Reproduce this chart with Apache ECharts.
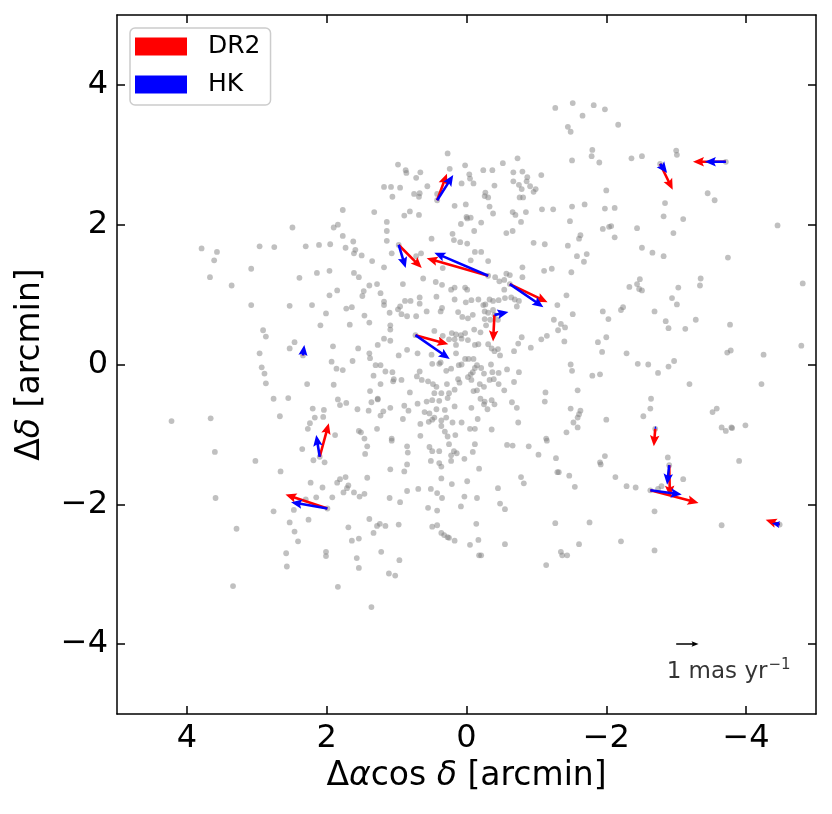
<!DOCTYPE html>
<html><head><meta charset="utf-8">
<script src="https://cdn.jsdelivr.net/npm/echarts@6/dist/echarts.min.js"></script>
<style>html,body{margin:0;padding:0;background:#fff}#c{width:832px;height:814px}</style>
</head><body><div id="c"></div>
<script>
// star positions [Δα cosδ, Δδ] in arcmin, by region
const starsNW = [[3.79,1.66],[3.57,1.61],[3.61,1.49],[2.96,1.69],[2.75,1.68],[2.49,1.96],[2.30,1.69],[2.11,1.71],[1.95,1.72],[1.77,2.21],[1.90,1.96],[1.84,2.00],[1.77,1.84],[1.62,1.76],[1.73,1.67],[1.59,1.64],[1.61,1.59],[1.50,1.56],[1.32,2.18],[1.35,1.48]];
const starsN = [[-1.27,3.67],[-1.52,3.74],[-1.82,3.71],[-1.66,3.56],[-1.45,3.40],[-1.49,3.33],[-1.80,3.07],[-1.79,2.98],[-1.51,2.92],[0.27,3.02],[0.98,2.86],[0.87,2.78],[0.86,2.74],[0.66,2.75],[0.72,2.67],[0.24,2.80],[0.02,2.85],[-0.04,2.72],[-0.05,2.66],[0.07,2.59],[-0.10,2.59],[-0.24,2.78],[-0.37,2.78],[-0.52,2.88],[-0.73,2.95],[-0.67,2.75],[-0.80,2.76],[-0.87,2.68],[-1.07,2.71],[-0.67,2.62],[-0.75,2.57],[-0.86,2.62],[-0.79,2.51],[-0.91,2.55],[-0.99,2.51],[-0.96,2.47],[-0.76,2.39],[-0.81,2.39],[-0.40,2.56],[-0.27,2.46],[-0.26,2.41],[-0.31,2.39],[1.18,2.54],[1.08,2.54],[0.95,2.53],[1.06,2.40],[0.56,2.55],[0.75,2.44],[0.67,2.45],[0.68,2.40],[0.42,2.44],[0.17,2.27],[0.01,2.29],[-0.33,2.26],[-0.38,2.16],[-1.08,2.22],[-1.24,2.22],[-1.51,2.26],[-1.69,2.29],[-1.48,2.05],[-1.63,1.85],[-1.61,1.80],[-1.45,1.70],[-1.58,1.55],[-1.72,1.58],[-1.68,1.47],[0.81,2.19],[0.89,2.13],[0.68,2.14],[1.14,2.04],[1.14,1.91],[1.14,1.77],[1.07,1.59],[0.65,1.59],[0.72,1.55],[0.50,1.80],[0.20,1.87],[0.18,1.78],[0.09,1.75],[-0.01,1.73],[0.08,2.01],[0.00,2.11],[-0.06,2.10],[-0.01,2.09],[-0.21,2.03],[-0.11,1.91],[-0.12,1.61],[-0.21,1.61],[-0.06,1.49],[-0.31,1.48],[-0.57,1.88],[-0.66,1.91],[-0.78,2.04],[-0.66,2.18],[-0.70,2.14],[-0.85,2.18],[-0.96,1.74],[-1.12,1.72]];
const starsNE = [[-1.98,3.65],[-2.17,3.43],[-1.90,2.89],[-2.36,2.95],[-2.51,2.98],[-3.00,3.06],[-3.01,3.00],[-2.00,2.49],[-1.98,2.23],[-2.12,2.24],[-3.45,2.45],[-3.55,2.35],[-2.84,2.31],[-2.82,2.12],[-3.10,2.08],[-4.45,1.99],[-1.95,1.94],[-2.04,1.97],[-2.07,1.98],[-2.12,1.82],[-2.44,1.95],[-2.96,1.88],[-2.51,1.67],[-2.66,1.60],[-2.82,1.55],[-3.74,1.53]];
const starsW = [[3.67,1.25],[3.08,1.37],[3.36,1.13],[3.08,0.85],[2.39,1.24],[2.14,1.31],[1.96,1.34],[1.61,1.31],[1.54,1.25],[1.39,1.13],[1.28,1.15],[1.47,1.05],[1.49,0.98],[1.96,0.99],[1.85,1.06],[2.53,0.84],[2.21,0.85],[2.01,0.73],[1.72,0.80],[1.64,0.82],[2.09,0.56],[1.67,0.57],[1.46,0.70],[1.39,0.60],[2.91,0.49],[2.87,0.40],[2.46,0.32],[2.53,0.23],[2.96,0.16],[1.91,0.26],[1.55,0.23],[1.39,0.16],[1.38,0.09],[1.93,0.04],[1.86,-0.06],[1.77,-0.08],[1.63,0.05],[1.30,-0.01],[1.33,-0.16],[2.93,-0.04],[2.89,-0.13],[2.87,-0.27],[2.28,-0.28],[1.90,-0.29],[2.76,-0.49],[2.55,-0.48],[1.38,-0.38],[1.27,-0.49],[1.84,-0.50],[1.81,-0.58],[1.72,-0.55],[1.36,-0.54],[1.56,-0.64],[1.40,-0.66],[2.20,-0.63],[2.04,-0.65],[2.17,-0.76],[2.05,-0.75],[2.24,-0.84],[2.27,-0.92],[2.67,-0.74],[4.22,-0.81],[3.66,-0.77],[1.54,-0.95],[1.51,-0.97],[1.88,-1.01],[1.46,-1.06],[1.28,-0.92]];
const starsC = [[1.18,1.39],[0.91,1.15],[0.62,1.23],[0.34,1.38],[0.44,1.18],[0.35,1.14],[0.22,1.07],[0.17,1.10],[0.02,1.10],[-0.01,1.07],[-0.41,1.25],[-0.47,1.19],[-0.54,1.21],[-0.57,1.30],[-0.62,1.28],[-0.80,1.39],[-0.80,1.25],[-1.11,1.34],[-1.22,1.37],[-1.50,1.32],
[1.23,1.02],[1.18,0.90],[1.18,0.85],[0.95,0.83],[0.98,0.79],[0.88,0.91],[0.80,0.91],[0.67,0.96],[0.67,0.87],[0.43,0.97],[0.35,0.81],[0.37,0.76],[0.17,0.93],[0.01,0.89],[-0.07,0.92],[-0.17,0.93],[-0.24,0.85],[-0.27,0.86],[-0.33,0.93],[-0.38,0.91],[-0.46,0.92],[-0.55,0.95],[-0.54,1.07],[-0.64,0.96],[-0.69,0.93],[-0.75,0.91],[-0.72,0.83],[-1.43,0.99],[-1.30,0.85],
[1.10,0.74],[0.93,0.72],[0.85,0.69],[0.72,0.69],[0.57,0.76],[0.12,0.75],[0.06,0.68],[-0.02,0.66],[-0.09,0.71],[-0.26,0.76],[-0.31,0.74],[-0.38,0.78],[-0.26,0.65],[-0.34,0.64],[-0.45,0.64],[-0.28,0.56],[-0.20,0.46],[-0.11,0.50],[-1.52,0.72],[-1.25,0.64],[-1.35,0.58],[-1.31,0.49],[-1.41,0.53],[1.09,0.56],[1.09,0.50],[1.09,0.34],[1.18,0.37],[1.27,0.28],
[0.34,0.41],[0.21,0.45],[0.15,0.43],[0.08,0.42],[0.02,0.45],[0.25,0.36],[0.17,0.36],[0.07,0.37],[-0.02,0.35],[-0.12,0.28],[-0.17,0.29],[-0.31,0.29],[-0.36,0.23],[-0.40,0.19],[-0.45,0.22],[-0.48,0.13],[-0.68,0.19],[-0.74,0.30],[-0.79,0.39],[-0.92,0.24],[-1.07,0.36],[-1.15,0.41],[-1.40,0.33],[0.70,0.16],[0.85,0.21],[0.97,0.13],[0.15,0.28],[0.15,0.16],[0.46,0.48],
[1.23,-0.01],[1.16,-0.10],[1.06,-0.11],[0.50,0.14],[0.49,0.01],[0.39,0.01],[0.37,0.03],[0.29,-0.09],[0.11,-0.01],[0.07,0.00],[0.02,0.08],[-0.03,0.08],[-0.10,0.08],[-0.15,-0.01],[-0.12,-0.05],[-0.09,-0.11],[-0.06,-0.14],[-0.02,-0.18],[-0.21,-0.05],[-0.25,-0.13],[-0.35,0.00],[-0.37,-0.11],[-0.46,-0.12],[-0.58,-0.07],[-0.75,-0.11],[-1.49,0.00],[-1.51,-0.09],[-1.80,-0.16],[0.67,-0.10],[0.22,-0.06],
[1.23,-0.28],[1.05,-0.24],[1.04,-0.21],[0.93,-0.22],[0.71,-0.17],[0.64,-0.22],[0.55,-0.24],[0.48,-0.28],[0.43,-0.32],[0.12,-0.21],[0.10,-0.26],[0.28,-0.28],[-0.07,-0.22],[-0.15,-0.37],[-0.10,-0.38],[-0.19,-0.28],[-0.25,-0.32],[-0.33,-0.22],[-0.39,-0.21],[-0.46,-0.28],[-0.54,-0.37],[-0.68,-0.25],[0.81,-0.40],[0.46,-0.41],[0.36,-0.41],[0.25,-0.41],[0.17,-0.36],[-1.59,-0.37],[-1.13,-0.40],
[1.27,-0.50],[1.09,-0.62],[1.19,-0.67],[0.89,-0.59],[0.83,-0.66],[0.70,-0.56],[0.57,-0.53],[0.49,-0.51],[0.39,-0.52],[0.27,-0.48],[0.43,-0.64],[0.31,-0.65],[0.60,-0.68],[0.53,-0.70],[0.17,-0.60],[-0.07,-0.62],[-0.20,-0.49],[-0.26,-0.53],[-0.25,-0.57],[-0.36,-0.51],[-0.40,-0.57],[-0.30,-0.64],[-0.65,-0.54],[-0.72,-0.62],[-1.12,-0.53],[-1.49,-0.63],[-1.63,-0.66],[-1.61,-0.71],[-1.59,-0.76],
[1.23,-0.73],[0.91,-0.78],[0.66,-0.85],[0.54,-0.82],[0.49,-0.79],[0.46,-0.76],[0.36,-0.80],[0.29,-0.76],[0.20,-0.83],[0.36,-0.88],[0.31,-0.96],[0.27,-1.03],[0.07,-0.83],[-0.05,-0.92],[-0.12,-0.92],[-0.16,-0.78],[-0.36,-0.93],[1.07,-1.06],[0.66,-1.02],[0.16,-1.01],[-1.53,-0.83],[-1.59,-0.90],[-1.43,-0.97],[-1.14,-1.06],[-0.74,-0.83]];
const starsE = [[-2.48,1.22],[-2.33,1.11],[-2.44,1.15],[-2.47,1.08],[-2.51,1.06],[-3.03,1.10],[-3.35,1.23],[-3.34,1.13],[-4.81,1.16],[-2.94,0.95],[-3.01,0.86],[-1.95,0.76],[-2.03,0.65],[-2.21,0.78],[-2.24,0.82],[-2.69,0.76],[-2.85,0.62],[-2.89,0.52],[-3.13,0.51],[-3.28,0.64],[-3.77,0.57],[-2.00,0.39],[-1.88,0.32],[-1.94,0.18],[-2.29,0.16],[-2.45,0.01],[-2.60,0.00],[-2.74,-0.12],[-2.89,-0.03],[-2.97,0.05],[-3.73,0.17],[-3.78,0.20],[-4.25,0.14],[-4.79,0.27],[-1.91,-0.14],[-3.19,-0.28],[-4.22,-0.28],[-2.64,-0.49],[-2.63,-0.63],[-2.53,-0.74],[-2.00,-0.79],[-3.52,-0.68],[-3.58,-0.63],[-3.99,-0.87],[-3.65,-0.90],[-3.71,-0.95],[-3.79,-0.90],[-3.80,-0.91]];
const starsSW = [[3.60,-1.25],[3.02,-1.38],[2.35,-1.21],[1.42,-1.17],[1.45,-1.28],[2.19,-1.37],[2.03,-1.40],[2.66,-1.53],[2.23,-1.69],[2.06,-1.76],[1.85,-1.69],[1.81,-1.64],[1.73,-1.61],[1.69,-1.73],[1.71,-1.77],[1.76,-1.83],[1.61,-1.83],[1.53,-1.89],[1.46,-1.85],[1.42,-1.62],[1.92,-1.90],[2.15,-1.90],[2.30,-1.93],[3.59,-1.91],[2.76,-2.10],[2.47,-2.08],[2.26,-2.22],[2.53,-2.26],[2.46,-2.39],[2.41,-2.53],[3.29,-2.35],[1.39,-2.21],[1.33,-2.41],[1.28,-2.31],[1.69,-2.33],[1.64,-2.52],[1.54,-2.49],[2.01,-2.68],[2.01,-2.74],[2.58,-2.70],[2.57,-2.89],[1.57,-2.77],[1.54,-2.91],[3.34,-3.17],[1.84,-3.18],[1.36,-3.47]];
const starsS = [[1.07,-1.09],[0.85,-1.17],[0.84,-1.26],[0.53,-1.18],[0.49,-1.24],[0.39,-1.24],[0.25,-1.14],[0.18,-1.24],[0.14,-1.27],[0.22,-1.30],[-0.12,-1.14],[-0.09,-1.25],[0.03,-1.35],[0.51,-1.38],[0.39,-1.41],[0.36,-1.46],[0.22,-1.38],[0.85,-1.43],[1.09,-1.50],[0.89,-1.53],[-0.18,-1.49],[-0.58,-1.15],[-0.66,-1.16],[-0.89,-1.17],[-1.15,-1.09],[-1.03,-1.29],[-1.28,-1.34],[-1.30,-1.54],[-1.32,-1.54],[-1.47,-1.59],[-1.55,-1.75],[-0.78,-1.61],[-0.82,-1.70],[-0.45,-1.77],[-0.48,-1.99],[-0.55,-2.07],[0.36,-1.63],[0.21,-1.71],[-0.01,-1.67],[0.69,-1.78],[0.85,-1.81],[0.51,-1.78],[0.42,-1.84],[0.35,-1.91],[0.03,-1.89],[-0.15,-1.91],[0.08,-2.03],[0.55,-2.05],[0.42,-2.09],[1.10,-1.91],[0.95,-1.97],[1.24,-2.28],[1.16,-2.31],[0.97,-2.29],[0.49,-2.32],[0.42,-2.30],[0.36,-2.41],[0.32,-2.44],[0.27,-2.47],[0.25,-2.48],[0.17,-2.52],[-0.14,-2.28],[-0.17,-2.51],[-0.05,-2.58],[-0.18,-2.73],[-0.21,-2.73],[-0.55,-2.57],[1.22,-2.68],[0.96,-2.80],[1.11,-2.99],[1.02,-3.02],[-1.27,-2.27],[-1.76,-2.26],[-1.61,-2.57],[-1.35,-2.68],[-1.37,-2.73],[-1.44,-2.73],[-1.14,-2.87]];
const starsSE = [[-1.98,-1.31],[-1.91,-1.40],[-1.92,-1.43],[-2.13,-1.61],[-2.29,-1.74],[-2.42,-1.76],[-2.88,-1.33],[-3.10,-1.64],[-3.90,-1.38],[-2.74,-1.78],[-2.79,-1.74],[-2.69,-2.10],[-3.65,-2.30],[-2.21,-2.53],[-2.69,-2.66]];

// proper-motion arrows: origin and arrow tips (arcmin)
const arrowOrigins = [[0.42,2.35],[-2.77,2.87],[-3.71,2.90],[0.97,1.71],[-0.31,1.27],[-0.62,1.15],[-0.40,0.71],[0.73,0.42],[2.34,0.13],[2.10,-1.32],[1.99,-2.06],[-2.70,-0.92],[-2.90,-1.44],[-2.63,-1.80],[-4.48,-2.29]];
const dr2Tips = [[0.28,2.73],[-2.95,2.50],[-3.24,2.90],[0.64,1.38],[0.57,1.52],[-1.16,0.89],[-0.38,0.33],[0.26,0.29],[2.34,0.18],[1.97,-0.84],[2.59,-1.86],[-2.68,-1.17],[-2.91,-1.89],[-3.32,-1.98],[-4.28,-2.22]];
const hkTips = [[0.19,2.71],[-2.87,2.74],[-3.41,2.90],[0.87,1.38],[0.46,1.60],[-1.10,0.82],[-0.60,0.75],[0.24,0.08],[2.32,0.28],[2.15,-1.01],[2.51,-1.97],[-2.71,-0.88],[-2.87,-1.72],[-3.08,-1.86],[-4.37,-2.27]];

// scale arrow (1 mas/yr)
const scaleStart = [-3.00,-4.00];
const scaleEnd = [-3.32,-4.00];
const scaleLabelPos = [-3.75,-4.40];

const tickValues = [-4,-2,0,2,4];
const seriesNames = ['DR2','HK'];

const FONT = 'DejaVu Sans';
const allStars = [].concat(starsNW, starsN, starsNE, starsW, starsC, starsE, starsSW, starsS, starsSE, arrowOrigins);
const minus = v => String(v).replace('-', '\u2212');

function axisCommon(pos, showLabel){
  return {
    type:'value', min:-5, max:5, position:pos,
    axisLine:{show:true, onZero:false, lineStyle:{color:'#000', width:1.5}},
    axisTick:{show:true, inside:true, length:8, customValues:tickValues, lineStyle:{color:'#000', width:1.5}},
    axisLabel:{show:showLabel, customValues:tickValues, formatter:minus, color:'#000', fontSize:32, fontFamily:FONT, margin:9},
    splitLine:{show:false}
  };
}
const nameRich = {n:{fontSize:33,fontFamily:FONT,color:'#000'}, i:{fontSize:33,fontFamily:FONT,fontStyle:'italic',color:'#000'}};
const xBottom = Object.assign(axisCommon('bottom', true), {
  inverse:true, name:'{n|Δ}{i|α}{n|cos}{i| δ}{n| [arcmin]}', nameLocation:'middle', nameGap:45,
  nameTextStyle:{color:'#000', fontSize:33, fontFamily:FONT, rich:nameRich}
});
const xTop = Object.assign(axisCommon('top', false), {inverse:true});
const yLeft = Object.assign(axisCommon('left', true), {
  name:'{n|Δ}{i|δ}{n| [arcmin]}', nameLocation:'middle', nameGap:70, nameRotate:90,
  nameTextStyle:{color:'#000', fontSize:33, fontFamily:FONT, rich:nameRich}
});
const yRight = axisCommon('right', false);

// quiver-like arrow polygon
function makeArrowRenderer(color, w, hl, hal, hw){
  return function(params, api){
    const p0 = api.coord([api.value(0), api.value(1)]);
    const p1 = api.coord([api.value(2), api.value(3)]);
    const dx = p1[0]-p0[0], dy = p1[1]-p0[1];
    const len = Math.sqrt(dx*dx+dy*dy);
    if (len < 0.01) return null;
    const ux = dx/len, uy = dy/len, nx = -uy, ny = ux;
    let s = len < hl ? len/hl : 1;
    const W = w*s/2, HL = hl*s, HAL = hal*s, HW = hw*s/2;
    const pt = (d, o) => [p0[0]+ux*d+nx*o, p0[1]+uy*d+ny*o];
    const points = [pt(0,W), pt(len-HAL,W), pt(len-HL,HW), [p1[0],p1[1]], pt(len-HL,-HW), pt(len-HAL,-W), pt(0,-W)];
    return {type:'polygon', shape:{points:points}, style:{fill:color, stroke:null}};
  };
}
function arrowSeries(name, color, tips, dims){
  return {
    name:name, type:'custom', coordinateSystem:'cartesian2d', xAxisIndex:0, yAxisIndex:0,
    color:color, silent:true, z:3, clip:false,
    renderItem: makeArrowRenderer(color, dims[0], dims[1], dims[2], dims[3]),
    encode:{x:[0,2], y:[1,3]},
    data: arrowOrigins.map((o,i)=>[o[0], o[1], tips[i][0], tips[i][1]])
  };
}

const chart = echarts.init(document.getElementById('c'), null, {renderer:'canvas'});
chart.setOption({
  animation:false,
  backgroundColor:'#fff',
  grid:{left:117, top:15, right:16, bottom:100, containLabel:false},
  legend:{
    data:[{name:seriesNames[0], itemStyle:{color:'red'}},{name:seriesNames[1], itemStyle:{color:'blue'}}],
    orient:'vertical', left:130, top:28, icon:'rect', itemWidth:52, itemHeight:18, itemGap:13,
    padding:[6,10,8,5], borderColor:'#cccccc', borderWidth:1.5, borderRadius:5,
    backgroundColor:'rgba(255,255,255,0.8)',
    textStyle:{color:'#000', fontSize:25, fontFamily:FONT, lineHeight:18, padding:[0,0,0,16]},
    selectedMode:false
  },
  xAxis:[xBottom, xTop],
  yAxis:[yLeft, yRight],
  series:[
    {type:'scatter', data:allStars, symbolSize:5.8, silent:true, z:2,
     itemStyle:{color:'rgba(128,128,128,0.62)'}},
    arrowSeries(seriesNames[0], 'red', dr2Tips, [2.6, 11, 9.5, 9.5]),
    arrowSeries(seriesNames[1], 'blue', hkTips, [2.6, 11, 9.5, 9.5]),
    {type:'custom', coordinateSystem:'cartesian2d', silent:true, z:3,
     renderItem: makeArrowRenderer('#000', 1.5, 7, 6, 5.5),
     encode:{x:[0,2], y:[1,3]},
     data:[[scaleStart[0], scaleStart[1], scaleEnd[0], scaleEnd[1]]]},
    {type:'scatter', data:[scaleLabelPos], symbolSize:0, silent:true, z:4,
     label:{show:true, position:'inside', color:'#000', formatter:'{a|1 mas yr}{s|\u22121}',
       rich:{a:{fontSize:23, fontFamily:FONT, color:'#000'}, s:{fontSize:15, fontFamily:FONT, color:'#000', padding:[0,0,13,1]}}}}
  ]
});
</script>
</body></html>
